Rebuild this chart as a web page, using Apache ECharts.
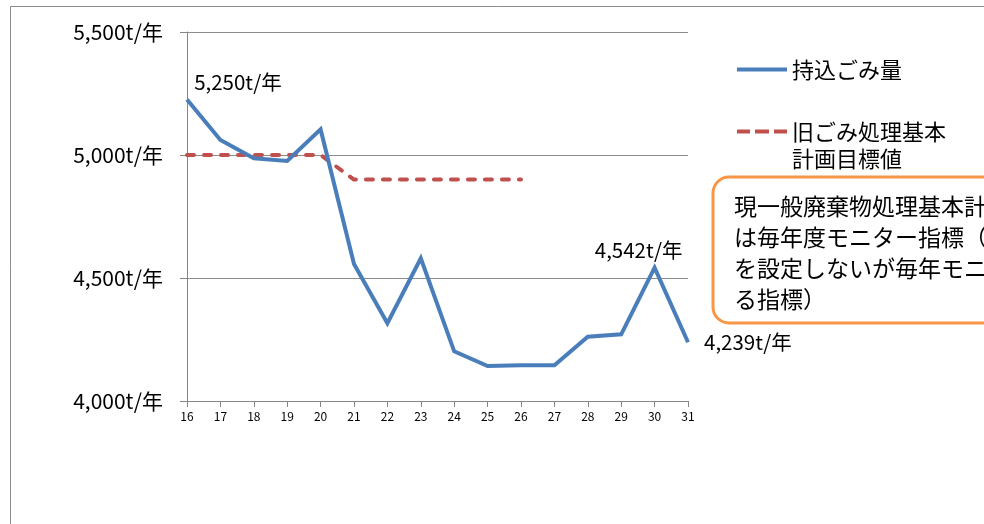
<!DOCTYPE html>
<html><head><meta charset="utf-8">
<script src="https://cdn.jsdelivr.net/npm/echarts@6/dist/echarts.min.js"></script>
<style>html,body{margin:0;padding:0;background:#fff}#c{width:984px;height:524px}</style>
</head><body><div id="c"></div>
<script>
const years = ['16','17','18','19','20','21','22','23','24','25','26','27','28','29','30','31'];
const broughtIn = [5226,5061,4987,4976,5104,4557,4316,4580,4202,4142,4145,4145,4261,4271,4542,4239];
const target = [5000,5000,5000,5000,5000,4900,4900,4900,4900,4900,4900,null,null,null,null,null];
const labelTexts = {0:'5,250t/年',14:'4,542t/年',15:'4,239t/年'};
const noteLines = ['現一般廃棄物処理基本計画で','は毎年度モニター指標（目標値','を設定しないが毎年モニターす','る指標）'];

const FONT = '"Noto Sans CJK JP", "Noto Sans", sans-serif';
const chart = echarts.init(document.getElementById('c'));
const fmtNum = v => v.toLocaleString('en-US') + 't/年';

const blueData = broughtIn.map((v,i)=>{
  const d = {value:v};
  if (labelTexts[i]) {
    let lab = {show:true, formatter:labelTexts[i], fontSize:20.5, color:'#000', fontFamily:FONT};
    if (i===0) Object.assign(lab,{position:'top', offset:[51,-2]});
    if (i===14) Object.assign(lab,{position:'top', offset:[-16,-2]});
    if (i===15) Object.assign(lab,{position:'right', distance:16});
    d.label = lab;
  }
  return d;
});

const SOLID_ICON = 'path://M0,0h50v4h-50z';
const DASH_ICON = 'path://M0,0h13v4h-13z M18,0h14v4h-14z M37,0h13v4h-13z';

chart.setOption({
  animation:false,
  textStyle:{fontFamily:FONT},
  graphic:[
    {type:'rect', shape:{x:10.5,y:6.5,width:1000,height:600}, style:{fill:'none',stroke:'#8c8c8c',lineWidth:1}, z:-10},
    {type:'rect', shape:{x:713,y:177,width:400,height:146,r:16}, style:{fill:'#fff',stroke:'#f79646',lineWidth:3}, z:10},
    {type:'text', x:734, y:191, z:11, style:{text:noteLines.join('\n'), fontSize:23, lineHeight:31, fill:'#000', fontFamily:FONT}}
  ],
  legend:{
    orient:'vertical', left:732, top:51, itemGap:8, itemWidth:50, itemHeight:4,
    textStyle:{fontSize:22, lineHeight:27, color:'#000', fontFamily:FONT},
    data:[{name:'持込ごみ量', icon:SOLID_ICON},{name:'\n旧ごみ処理基本\n計画目標値', icon:DASH_ICON}]
  },
  grid:{left:187, right:296, top:32, bottom:123, containLabel:false},
  xAxis:{
    type:'category', data:years, boundaryGap:false,
    axisLine:{lineStyle:{color:'#868686',width:1}},
    axisTick:{show:true, length:6, lineStyle:{color:'#868686'}},
    axisLabel:{fontSize:12, color:'#000', margin:9, fontFamily:FONT}
  },
  yAxis:{
    type:'value', min:4000, max:5500, interval:500,
    axisLine:{show:true, lineStyle:{color:'#868686'}},
    axisTick:{show:true, length:7, lineStyle:{color:'#868686'}},
    splitLine:{lineStyle:{color:'#8c8c8c',width:1}},
    axisLabel:{fontSize:21, color:'#000', margin:24, formatter:fmtNum, fontFamily:FONT}
  },
  series:[
    {name:'持込ごみ量', type:'line', data:blueData, showSymbol:true, symbol:'circle', symbolSize:0,
     lineStyle:{color:'#4a7ebb', width:4, join:'miter'}, itemStyle:{color:'#4a7ebb'}, z:3},
    {name:'\n旧ごみ処理基本\n計画目標値', type:'line', data:target, showSymbol:false, symbol:'none',
     lineStyle:{color:'#c0504d', width:4, type:[7,10], cap:'round'}, itemStyle:{color:'#c0504d'}, z:2}
  ]
});
</script></body></html>
